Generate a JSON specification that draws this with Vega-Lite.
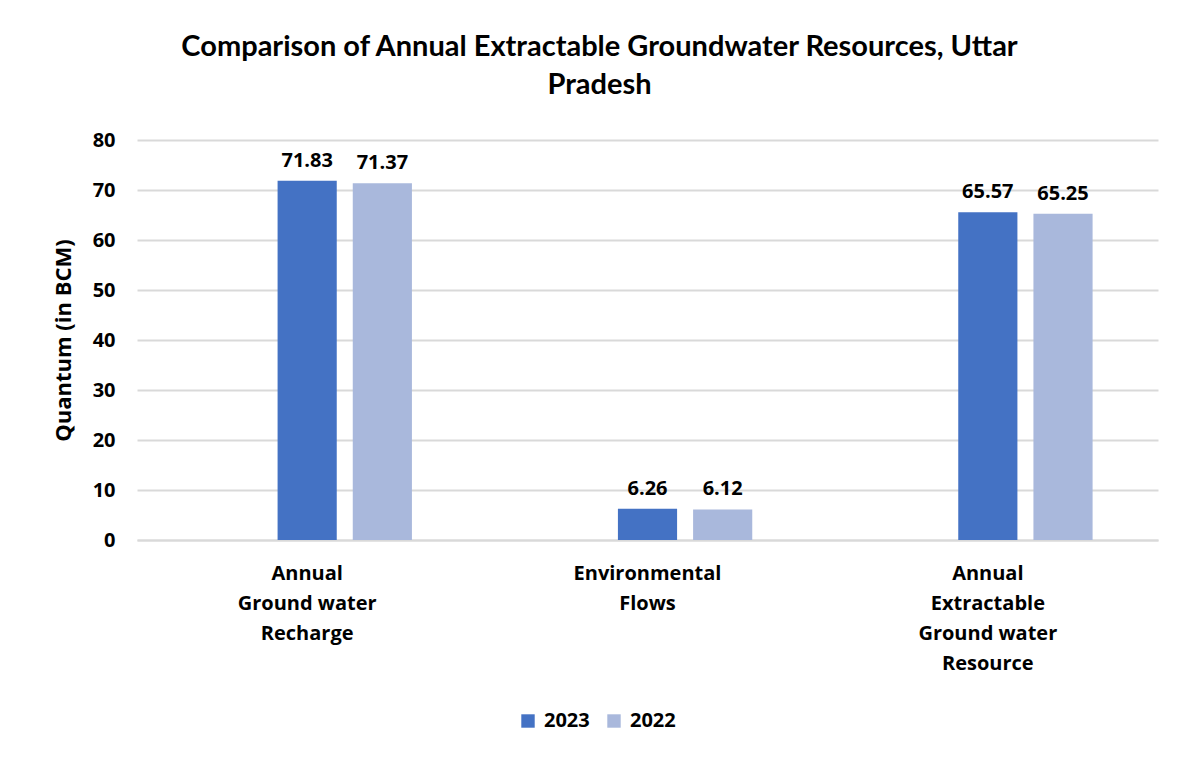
{
  "$schema": "https://vega.github.io/schema/vega-lite/v6.json",
  "width": 1021,
  "height": 400,
  "autosize": {"type": "none"},
  "padding": {"left": 137, "top": 140, "right": 31, "bottom": 221},
  "background": "white",
  "title": {
    "text": ["Comparison of Annual Extractable Groundwater Resources, Uttar", "Pradesh"],
    "font": "Lato",
    "fontSize": 29,
    "fontWeight": "bold",
    "color": "#000000",
    "lineHeight": 38,
    "anchor": "middle",
    "dx": -48,
    "offset": 30
  },
  "data": {
    "values": [
      {"category": "Annual Ground water Recharge", "year": "2023", "value": 71.83},
      {"category": "Annual Ground water Recharge", "year": "2022", "value": 71.37},
      {"category": "Environmental Flows", "year": "2023", "value": 6.26},
      {"category": "Environmental Flows", "year": "2022", "value": 6.12},
      {"category": "Annual Extractable Ground water Resource", "year": "2023", "value": 65.57},
      {"category": "Annual Extractable Ground water Resource", "year": "2022", "value": 65.25}
    ]
  },
  "encoding": {
    "x": {
      "field": "category",
      "type": "nominal",
      "sort": null,
      "scale": {"paddingInner": 0, "paddingOuter": 0},
      "axis": {
        "title": null,
        "labelAngle": 0,
        "labelFont": "Open Sans",
        "labelFontSize": 20,
        "labelFontWeight": "bold",
        "labelColor": "#000000",
        "labelLineHeight": 30,
        "labelPadding": 23,
        "labelBaseline": "top",
        "ticks": false,
        "domain": true,
        "domainColor": "#D9D9D9",
        "domainWidth": 2,
        "grid": false,
        "labelExpr": "datum.value == 'Annual Ground water Recharge' ? ['Annual', 'Ground water', 'Recharge'] : datum.value == 'Environmental Flows' ? ['Environmental', 'Flows'] : ['Annual', 'Extractable', 'Ground water', 'Resource']"
      }
    },
    "xOffset": {
      "field": "year",
      "type": "nominal",
      "scale": {"domain": ["blank", "2023", "2022"], "paddingInner": 0.213, "paddingOuter": 0.87}
    },
    "y": {
      "field": "value",
      "type": "quantitative",
      "scale": {"domain": [0, 80]},
      "axis": {
        "title": "Quantum (in BCM)",
        "titleFont": "Open Sans",
        "titleFontSize": 22,
        "titleFontWeight": "bold",
        "titleColor": "#000000",
        "titlePadding": 17,
        "values": [0, 10, 20, 30, 40, 50, 60, 70, 80],
        "labelFont": "Open Sans",
        "labelFontSize": 20,
        "labelFontWeight": "bold",
        "labelColor": "#000000",
        "labelPadding": 22,
        "ticks": false,
        "domain": false,
        "grid": true,
        "gridColor": "#D9D9D9",
        "gridWidth": 2
      }
    }
  },
  "layer": [
    {
      "mark": {"type": "bar"},
      "encoding": {
        "color": {
          "field": "year",
          "type": "nominal",
          "scale": {"domain": ["2023", "2022"], "range": ["#4472C4", "#A9B8DC"]},
          "legend": {
            "title": null,
            "orient": "none",
            "direction": "horizontal",
            "legendX": 381,
            "legendY": 571,
            "symbolType": "square",
            "symbolSize": 180,
            "symbolStrokeWidth": 0,
            "labelFont": "Open Sans",
            "labelFontSize": 20,
            "labelFontWeight": "bold",
            "labelColor": "#000000",
            "columnPadding": 14,
            "labelOffset": 6
          }
        }
      }
    },
    {
      "mark": {"type": "text", "baseline": "bottom", "dy": -10, "font": "Open Sans", "fontSize": 20, "fontWeight": "bold", "color": "#000000"},
      "encoding": {
        "text": {"field": "value", "type": "quantitative", "format": ".2f"}
      }
    }
  ],
  "config": {
    "view": {"stroke": null}
  }
}
